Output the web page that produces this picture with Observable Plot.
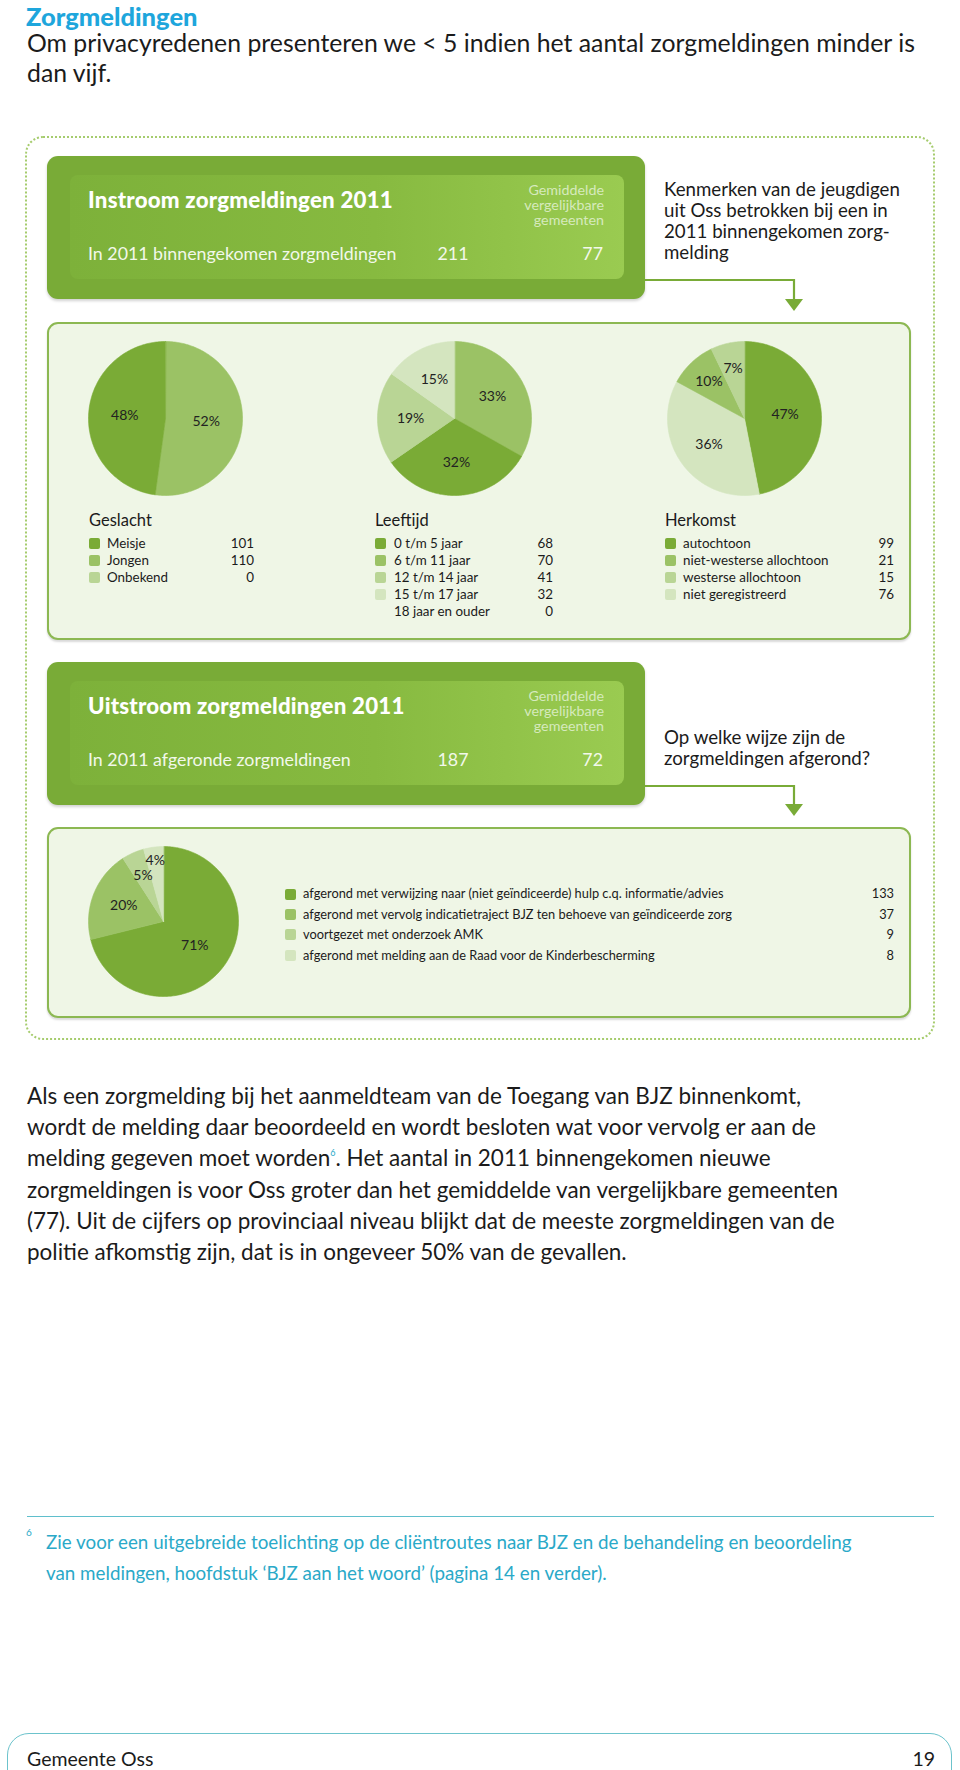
<!DOCTYPE html>
<html><head><meta charset="utf-8">
<script src="https://cdn.jsdelivr.net/npm/d3@7"></script>
<script src="https://cdn.jsdelivr.net/npm/@observablehq/plot@0.6"></script>
<style>
body{margin:0;background:#fff;}
#page{position:relative;width:960px;height:1770px;overflow:hidden;font-family:Lato,"Open Sans",sans-serif;color:#1b1b1b;}
#page div{position:absolute;white-space:nowrap;}
</style></head><body><div id="page"></div>
<script>
// ---------- data ----------
const shades = ["#7aab36", "#9bc265", "#b9d595", "#d4e5bf"];

const geslachtLabels = ["Meisje", "Jongen", "Onbekend"];
const geslachtValues = [101, 110, 0];
const geslachtOrder = [1, 0, 2];

const leeftijdLabels = ["0 t/m 5 jaar", "6 t/m 11 jaar", "12 t/m 14 jaar", "15 t/m 17 jaar", "18 jaar en ouder"];
const leeftijdValues = [68, 70, 41, 32, 0];
const leeftijdOrder = [1, 0, 2, 3, 4];

const herkomstLabels = ["autochtoon", "niet-westerse allochtoon", "westerse allochtoon", "niet geregistreerd"];
const herkomstValues = [99, 21, 15, 76];
const herkomstOrder = [0, 3, 1, 2];

const afgerondLabels = [
  "afgerond met verwijzing naar (niet geïndiceerde) hulp c.q. informatie/advies",
  "afgerond met vervolg indicatietraject BJZ ten behoeve van geïndiceerde zorg",
  "voortgezet met onderzoek AMK",
  "afgerond met melding aan de Raad voor de Kinderbescherming"
];
const afgerondValues = [133, 37, 9, 8];
const afgerondOrder = [0, 1, 2, 3];

const instroomOss = 211, instroomGem = 77;
const uitstroomOss = 187, uitstroomGem = 72;

// ---------- helpers ----------
const page = document.getElementById("page");
function el(css, html, parent = page) {
  const d = document.createElement("div");
  d.style.cssText = css;
  if (html != null) d.innerHTML = html;
  parent.appendChild(d);
  return d;
}
function txt(x, y, s, size, css = "") {
  return el(`left:${x}px;top:${y - size * 0.6}px;font-size:${size}px;line-height:${size * 1.2}px;${css}`, s);
}
function txtR(xr, y, s, size, css = "") {
  return el(`right:${960 - xr}px;top:${y - size * 0.6}px;font-size:${size}px;line-height:${size * 1.2}px;text-align:right;${css}`, s);
}

function pie(labels, values, order, cx, cy, r) {
  const total = d3.sum(values);
  const pad = 10, ext = (r + pad) / r, size = 2 * (r + pad);
  const pts = [], lbls = [];
  let acc = 0;
  for (const i of order) {
    const v = values[i];
    if (!v) continue;
    const a0 = acc / total * 2 * Math.PI; acc += v;
    const a1 = acc / total * 2 * Math.PI;
    const n = Math.max(2, Math.ceil((a1 - a0) / (Math.PI / 180)));
    pts.push({key: labels[i], x: 0, y: 0});
    for (let k = 0; k <= n; k++) {
      const a = a0 + (a1 - a0) * k / n;
      pts.push({key: labels[i], x: Math.sin(a), y: Math.cos(a)});
    }
    const share = v / total;
    const f = share < 0.045 ? 0.82 : share < 0.12 ? 0.67 : share > 0.45 ? 0.53 : 0.57;
    const am = (a0 + a1) / 2;
    lbls.push({x: f * Math.sin(am), y: f * Math.cos(am), text: Math.round(share * 100) + "%"});
  }
  const svg = Plot.plot({
    width: size, height: size, margin: 0,
    x: {domain: [-ext, ext], axis: null},
    y: {domain: [-ext, ext], axis: null},
    color: {domain: labels, range: shades},
    style: {background: "transparent", fontFamily: "Lato, sans-serif", overflow: "visible"},
    marks: [
      Plot.line(pts, {x: "x", y: "y", z: "key", fill: "key", stroke: "key", strokeWidth: 0.6, curve: "linear-closed"}),
      Plot.text(lbls, {x: "x", y: "y", text: "text", fontSize: 14, fill: "#222"})
    ]
  });
  const holder = el(`left:${cx - size / 2}px;top:${cy - size / 2}px;width:${size}px;height:${size}px;`);
  holder.appendChild(svg);
}

function legend(title, labels, values, x, ySt, labelX, valueR, headY, step, fs, noSwatch = []) {
  if (title) txt(x, headY, title, 16.5);
  labels.forEach((l, i) => {
    const y = ySt + i * step;
    if (!noSwatch.includes(i)) el(`left:${x}px;top:${y - 5.5}px;width:11px;height:11px;border-radius:2px;background:${shades[i]};`);
    txt(labelX, y, l, fs);
    txtR(valueR, y, String(values[i]), fs);
  });
}

function greenBox(top, title, line, oss, gem) {
  el(`left:47px;top:${top}px;width:598px;height:143px;background:#79ab37;border-radius:11px;box-shadow:0 2px 3px rgba(0,0,0,0.18);`);
  el(`left:70px;top:${top + 19}px;width:554px;height:104px;border-radius:8px;background:linear-gradient(90deg,#7db13a 0%,#87ba40 55%,#9acb51 100%);`);
  txt(88, top + 44, title, 22.3, "color:#fff;font-weight:900;letter-spacing:0.2px;");
  txt(88, top + 98, line, 17.8, "color:#f2f8ea;");
  el(`left:403px;top:${top + 98 - 10.7}px;width:100px;font-size:17.8px;line-height:21.4px;text-align:center;color:#f2f8ea;`, String(oss));
  txtR(603, top + 98, String(gem), 17.8, "color:#f2f8ea;");
  el(`right:${960 - 604}px;top:${top + 27}px;font-size:14.3px;line-height:14.8px;text-align:right;color:#d6eabd;`,
     "Gemiddelde<br>vergelijkbare<br>gemeenten");
}

function arrow(y, tipY) {
  const s = `<svg width="960" height="60" style="position:absolute;left:0;top:0;overflow:visible">
    <path d="M645,1 H794 V${tipY - y - 9}" fill="none" stroke="#79ab37" stroke-width="2.2"/>
    <path d="M785,${tipY - y - 11} H803 L794,${tipY - y + 1} Z" fill="#79ab37"/></svg>`;
  el(`left:0;top:${y - 1}px;width:960px;height:60px;`, s);
}

// ---------- header ----------
el("left:26px;top:4px;font-size:25.5px;line-height:24px;color:#1ea6dc;font-weight:900;", "Zorgmeldingen");
el("left:27px;top:28px;font-size:24.8px;line-height:30px;",
   "Om privacyredenen presenteren we &lt; 5 indien het aantal zorgmeldingen minder is<br>dan vijf.");

// dotted frame
el("left:25px;top:136px;width:906px;height:900px;border:2px dotted #a6cc6e;border-radius:18px;");

// ---------- instroom ----------
greenBox(156, "Instroom zorgmeldingen 2011", "In 2011 binnengekomen zorgmeldingen", instroomOss, instroomGem);
el("left:664px;top:179px;font-size:18.7px;line-height:21px;",
   "Kenmerken van de jeugdigen<br>uit Oss betrokken bij een in<br>2011 binnengekomen zorg-<br>melding");
arrow(280, 311);

// panel 1
el("left:47px;top:322px;width:860px;height:314px;background:#eff6e6;border:2px solid #8cb852;border-radius:11px;box-shadow:0 2px 2px rgba(0,0,0,0.15);");
pie(geslachtLabels, geslachtValues, geslachtOrder, 165, 418, 77);
pie(leeftijdLabels, leeftijdValues, leeftijdOrder, 454, 418, 77);
pie(herkomstLabels, herkomstValues, herkomstOrder, 744, 418, 77);

legend("Geslacht", geslachtLabels, geslachtValues, 89, 543, 107, 254, 521, 17, 13.4);
legend("Leeftijd", leeftijdLabels, leeftijdValues, 375, 543, 394, 553, 521, 17, 13.4, [4]);
legend("Herkomst", herkomstLabels, herkomstValues, 665, 543, 683, 894, 521, 17, 13.4);

// ---------- uitstroom ----------
greenBox(662, "Uitstroom zorgmeldingen 2011", "In 2011 afgeronde zorgmeldingen", uitstroomOss, uitstroomGem);
el("left:664px;top:727px;font-size:18.7px;line-height:21px;",
   "Op welke wijze zijn de<br>zorgmeldingen afgerond?");
arrow(786, 816);

// panel 2
el("left:47px;top:827px;width:860px;height:187px;background:#eff6e6;border:2px solid #8cb852;border-radius:11px;box-shadow:0 2px 2px rgba(0,0,0,0.15);");
pie(afgerondLabels, afgerondValues, afgerondOrder, 163, 921, 75);
legend(null, afgerondLabels, afgerondValues, 285, 894, 303, 894, 0, 20.4, 12.8);

// ---------- body text ----------
el("left:27px;top:1080px;font-size:22.5px;line-height:31.2px;",
   "Als een zorgmelding bij het aanmeldteam van de Toegang van BJZ binnenkomt,<br>" +
   "wordt de melding daar beoordeeld en wordt besloten wat voor vervolg er aan de<br>" +
   "melding gegeven moet worden<sup style='color:#2aa9c8;font-size:9px;vertical-align:10px;line-height:0'>6</sup>. Het aantal in 2011 binnengekomen nieuwe<br>" +
   "zorgmeldingen is voor Oss groter dan het gemiddelde van vergelijkbare gemeenten<br>" +
   "(77). Uit de cijfers op provinciaal niveau blijkt dat de meeste zorgmeldingen van de<br>" +
   "politie afkomstig zijn, dat is in ongeveer 50% van de gevallen.");

// footnote
el("left:27px;top:1516px;width:907px;height:0;border-top:1.5px solid #5fbfcc;");
txt(26, 1532, "6", 10, "color:#2aa9c8;");
el("left:46px;top:1527px;font-size:18.8px;line-height:30.5px;color:#2aa9c8;",
   "Zie voor een uitgebreide toelichting op de cliëntroutes naar BJZ en de behandeling en beoordeling<br>" +
   "van meldingen, hoofdstuk ‘BJZ aan het woord’ (pagina 14 en verder).");

// footer
el("left:7px;top:1733px;width:943px;height:60px;border:1.5px solid #6cc3cc;border-radius:22px;");
txt(27, 1759, "Gemeente Oss", 19.5);
txtR(935, 1759, "19", 19.5);
</script>
</body></html>
